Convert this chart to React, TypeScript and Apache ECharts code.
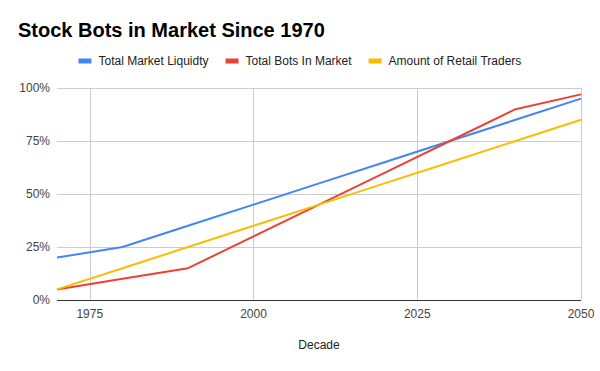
import React, { useEffect, useRef } from "react";
import * as echarts from "echarts";

const years = [1970, 1980, 1990, 2000, 2010, 2020, 2030, 2040, 2050];
const liquidity = [20, 25, 35, 45, 55, 65, 75, 85, 95];
const bots = [5, 10, 15, 30, 45, 60, 75, 90, 97];
const retail = [5, 15, 25, 35, 45, 55, 65, 75, 85];
const seriesNames = ["Total Market Liquidty", "Total Bots In Market", "Amount of Retail Traders"];
const xTickLabels = [1975, 2000, 2025, 2050];
const colors = ["#4285F4", "#EA4335", "#FBBC04"];

const FONT = "'Liberation Sans', Arial, sans-serif";

export default function App() {
  const ref = useRef<HTMLDivElement>(null);
  useEffect(() => {
    if (!ref.current) return;
    const chart = echarts.init(ref.current, null, { renderer: "svg" });
    const values = [liquidity, bots, retail];
    chart.setOption({
      animation: false,
      color: colors,
      textStyle: { fontFamily: FONT },
      title: {
        text: "Stock Bots in Market Since 1970",
        left: 18,
        top: 20,
        padding: 0,
        textStyle: { fontFamily: FONT, fontSize: 20, fontWeight: "bold", color: "#000" },
      },
      legend: {
        data: seriesNames,
        top: 55,
        left: "center",
        icon: "rect",
        itemWidth: 13,
        itemHeight: 5,
        itemGap: 17,
        padding: 0,
        textStyle: { fontFamily: FONT, fontSize: 12, color: "#222", padding: [0, 0, 0, 2] },
      },
      grid: { left: 57, right: 19, top: 88, bottom: 71, containLabel: false },
      xAxis: {
        type: "value",
        min: 1970,
        max: 2050,
        interval: 5,
        name: "Decade",
        nameLocation: "middle",
        nameGap: 39,
        nameTextStyle: { fontFamily: FONT, fontSize: 12, color: "#222" },
        axisLine: { show: false },
        axisTick: { show: false },
        splitLine: { show: false },
        axisLabel: {
          fontFamily: FONT,
          fontSize: 12,
          color: "#444",
          margin: 8,
          showMinLabel: false,
          formatter: (v: number) => (xTickLabels.includes(v) ? String(v) : ""),
        },
      },
      yAxis: {
        type: "value",
        min: 0,
        max: 100,
        interval: 25,
        axisLine: { show: false },
        axisTick: { show: false },
        splitLine: { lineStyle: { color: "#cccccc", width: 1 } },
        axisLabel: { fontFamily: FONT, fontSize: 12, color: "#444", margin: 7, formatter: "{value}%" },
      },
      series: [
        {
          name: "grid-x",
          type: "line",
          data: [],
          z: 1,
          silent: true,
          markLine: {
            silent: true,
            z: 1,
            symbol: ["none", "none"],
            label: { show: false },
            lineStyle: { color: "#cccccc", width: 1, type: "solid" },
            data: xTickLabels.map((x) => ({ xAxis: x })),
          },
        },
        {
          name: "zero-line",
          type: "line",
          data: [],
          z: 3,
          silent: true,
          markLine: {
            silent: true,
            z: 3,
            symbol: ["none", "none"],
            label: { show: false },
            lineStyle: { color: "#333333", width: 1, type: "solid" },
            data: [{ yAxis: 0 }],
          },
        },
        ...seriesNames.map((name, i) => ({
          name,
          type: "line",
          z: 2,
          showSymbol: false,
          symbol: "none",
          lineStyle: { width: 2, color: colors[i] },
          itemStyle: { color: colors[i] },
          data: years.map((y, j) => [y, values[i][j]]),
        })),
      ],
    });
    return () => chart.dispose();
  }, []);
  return <div ref={ref} style={{ width: 600, height: 371, position: "absolute", left: 0, top: 0 }} />;
}
